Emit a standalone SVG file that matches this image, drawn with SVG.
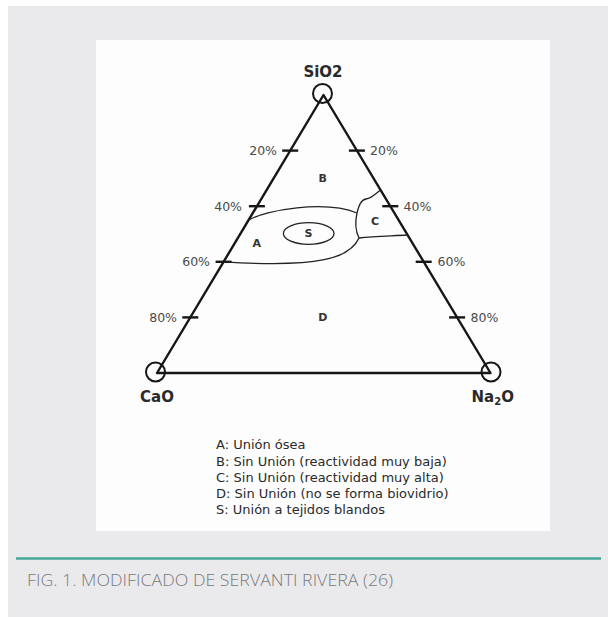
<svg xmlns="http://www.w3.org/2000/svg" width="608" height="617" viewBox="0 0 608 617">
  <style>
    .edge { fill: none; stroke: #161616; stroke-width: 2.4; stroke-linejoin: round; }
    .tick { stroke: #161616; stroke-width: 2.4; }
    .vtx { fill: none; stroke: #161616; stroke-width: 2; }
    .region { fill: none; stroke: #222; stroke-width: 1.3; }
    .pct { font-family: "DejaVu Sans", "Liberation Sans", sans-serif; font-size: 12.5px; fill: #4a4a4a; }
    .pct-l { text-anchor: end; }
    .reg { font-family: "DejaVu Sans", "Liberation Sans", sans-serif; font-size: 11px; font-weight: bold; fill: #333; text-anchor: middle; }
    .vlab { font-family: "DejaVu Sans", "Liberation Sans", sans-serif; font-size: 15px; font-weight: bold; fill: #2a2a2a; }
    .leg { font-family: "DejaVu Sans", "Liberation Sans", sans-serif; font-size: 13px; fill: #2a2a2a; }
    .cap { font-family: "Open Sans", "Liberation Sans", sans-serif; font-size: 17px; font-weight: 300; fill: #7a7a7c; }
  </style>

  <rect x="8" y="6" width="600" height="611" fill="#eaeaec"/>
  <rect x="96" y="40" width="454" height="491" fill="#fdfdfd"/>

  <g id="triangle">
    <polygon class="edge" points="323.5,95 157,373 490.5,373"/>
    <circle class="vtx" cx="322.5" cy="93.5" r="9.5"/>
    <circle class="vtx" cx="155.5" cy="372" r="9.5"/>
    <circle class="vtx" cx="491" cy="372" r="9.5"/>
  </g>

  <g id="ticks">
    <line class="tick" x1="282.2" y1="150.6" x2="298.2" y2="150.6"/>
    <line class="tick" x1="248.9" y1="206.2" x2="264.9" y2="206.2"/>
    <line class="tick" x1="215.6" y1="261.8" x2="231.6" y2="261.8"/>
    <line class="tick" x1="182.3" y1="317.4" x2="198.3" y2="317.4"/>
    <line class="tick" x1="348.9" y1="150.6" x2="364.9" y2="150.6"/>
    <line class="tick" x1="382.3" y1="206.2" x2="398.3" y2="206.2"/>
    <line class="tick" x1="415.7" y1="261.8" x2="431.7" y2="261.8"/>
    <line class="tick" x1="449.1" y1="317.4" x2="465.1" y2="317.4"/>
  </g>

  <g id="tick-labels">
    <text class="pct pct-l" x="277" y="155">20%</text>
    <text class="pct pct-l" x="242" y="210.7">40%</text>
    <text class="pct pct-l" x="210" y="266.3">60%</text>
    <text class="pct pct-l" x="177" y="322">80%</text>
    <text class="pct" x="370" y="155">20%</text>
    <text class="pct" x="403.5" y="210.7">40%</text>
    <text class="pct" x="437.5" y="266.3">60%</text>
    <text class="pct" x="470.5" y="322">80%</text>
  </g>

  <g id="regions">
    <path id="A-upper" class="region" d="M249,220 C265,210 325,200 357,213"/>
    <path id="C-left" class="region" d="M357,213 C355,222 356,232 359,238"/>
    <path id="A-lower" class="region" d="M359,238 C350,258 320,268 223.6,261.8"/>
    <path id="C-upper" class="region" d="M357,213 C359,205 361,200 366,199 C372,198 376,193 380.6,190"/>
    <path id="C-lower" class="region" d="M359,238 C375,236 392,236 407.5,235"/>
    <ellipse id="S-region" class="region" cx="308.7" cy="233.5" rx="25.3" ry="10.8"/>
  </g>

  <g id="region-labels">
    <text class="reg" x="322.7" y="182.3">B</text>
    <text class="reg" x="308.5" y="237.3">S</text>
    <text class="reg" x="256.7" y="247">A</text>
    <text class="reg" x="375" y="225">C</text>
    <text class="reg" x="322.7" y="321.3">D</text>
  </g>

  <g id="vertex-labels">
    <text class="vlab" x="323" y="77" text-anchor="middle">SiO2</text>
    <text class="vlab" x="157" y="401.5" text-anchor="middle">CaO</text>
    <text class="vlab" x="471.5" y="402">Na<tspan font-size="10" dy="3">2</tspan><tspan dy="-3">O</tspan></text>
  </g>

  <g id="legend">
    <text class="leg" x="216" y="449">A: Unión ósea</text>
    <text class="leg" x="216" y="465.5">B: Sin Unión (reactividad muy baja)</text>
    <text class="leg" x="216" y="481.7">C: Sin Unión (reactividad muy alta)</text>
    <text class="leg" x="216" y="497.5">D: Sin Unión (no se forma biovidrio)</text>
    <text class="leg" x="216" y="513.5">S: Unión a tejidos blandos</text>
  </g>

  <line x1="16" y1="558.5" x2="601" y2="558.5" stroke="#46a898" stroke-width="2.6"/>
  <text class="cap" x="27" y="585.7" textLength="366" lengthAdjust="spacingAndGlyphs">FIG. 1. MODIFICADO DE SERVANTI RIVERA (26)</text>
</svg>
